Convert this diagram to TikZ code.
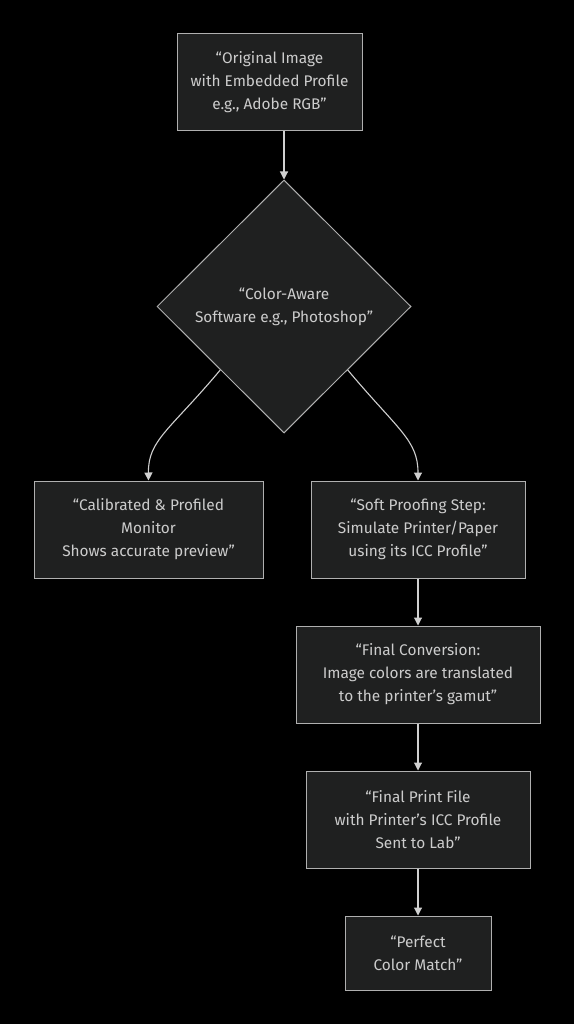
\documentclass[tikz,border=0pt]{standalone}
\usepackage{fontspec}
\setmainfont{Fira Sans}
\usetikzlibrary{shapes.geometric,arrows.meta}
\definecolor{bgc}{HTML}{000000}
\definecolor{boxfill}{HTML}{1F2020}
\definecolor{boxline}{HTML}{B0B0B0}
\definecolor{txt}{HTML}{CCCCCC}
\definecolor{lnk}{HTML}{D0D0D0}
\begin{document}
\begin{tikzpicture}[x=1pt,y=-1pt,
  flowbox/.style={draw=boxline,fill=boxfill,line width=1pt,text=txt,align=center,
    font=\fontsize{15.4}{23}\selectfont,inner sep=0pt},
  decide/.style={diamond,draw=boxline,fill=boxfill,line width=1pt,text=txt,align=center,
    font=\fontsize{15.4}{23}\selectfont,inner sep=0pt,minimum width=254pt,minimum height=253pt},
  link/.style={draw=lnk,line width=1.1pt,-{Triangle[width=8pt,length=8pt]}}]
\fill[bgc] (0,0) rectangle (574,1024);
\useasboundingbox (0,0) rectangle (574,1024);
\node[flowbox,minimum width=185pt,minimum height=97pt] (orig) at (269.5,82.5)
  {“Original Image\\with Embedded Profile\\e.g., Adobe RGB”};
\node[decide] (sw) at (284,306.5) {“Color-Aware\\Software e.g., Photoshop”};
\node[flowbox,minimum width=229pt,minimum height=97pt] (mon) at (148.5,529.5)
  {“Calibrated \& Profiled\\Monitor\\Shows accurate preview”};
\node[flowbox,minimum width=214pt,minimum height=97pt] (soft) at (418,529.5)
  {“Soft Proofing Step:\\Simulate Printer/Paper\\using its ICC Profile”};
\node[flowbox,minimum width=244pt,minimum height=97pt] (conv) at (418,674.5)
  {“Final Conversion:\\Image colors are translated\\to the printer's gamut”};
\node[flowbox,minimum width=224pt,minimum height=97pt] (file) at (418,819.5)
  {“Final Print File\\with Printer's ICC Profile\\Sent to Lab”};
\node[flowbox,minimum width=146pt,minimum height=74pt] (match) at (418,953)
  {“Perfect\\Color Match”};
\coordinate (o1) at (284,131);
\draw[link] (o1) -- (sw.north);
\draw[link] (sw.south west) .. controls (170,430) and (148,440) .. (mon.north);
\draw[link] (sw.south east) .. controls (398,430) and (418,440) .. (soft.north);
\draw[link] (soft.south) -- (conv.north);
\draw[link] (conv.south) -- (file.north);
\draw[link] (file.south) -- (match.north);
\end{tikzpicture}
\end{document}
